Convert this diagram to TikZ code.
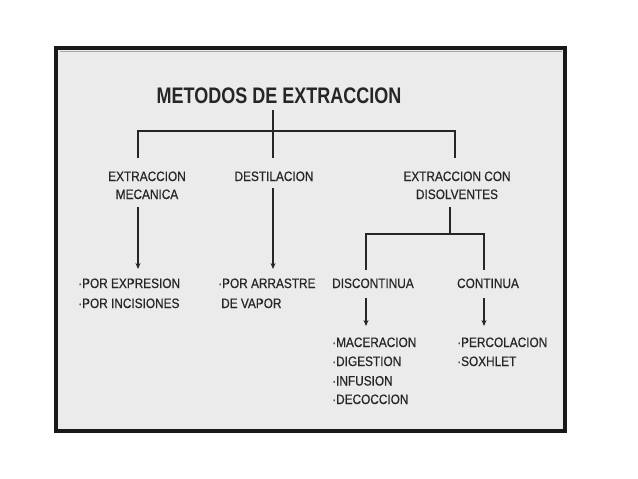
\documentclass[tikz,border=0pt]{standalone}
\usepackage{fontspec}
\setmainfont{Liberation Sans}[FakeStretch=0.87,FakeBold=0.5]
\newfontfamily\titlefont{Liberation Sans}[FakeStretch=0.8]
\usetikzlibrary{arrows.meta}
\definecolor{framebg}{HTML}{EBEBEB}
\definecolor{ink}{HTML}{262626}
\begin{document}
\begin{tikzpicture}[x=1pt,y=-1pt,
  lbl/.style={inner sep=0pt,anchor=base,text=ink,font=\fontsize{13.6}{16}\selectfont},
  lblw/.style={lbl,anchor=base west},
  ttl/.style={inner sep=0pt,anchor=base,text=ink,font=\titlefont\bfseries\fontsize{22.5}{26}\selectfont},
  tree/.style={draw=black!85,line width=1.3pt},
  arr/.style={tree,-{Stealth[length=6pt,width=5pt]}}]
\useasboundingbox (0,0) rectangle (638,479);
\fill[white] (0,0) rectangle (638,479);
\draw[line width=4pt,draw=black!90,fill=framebg] (56,48) rectangle (565,431);
\draw[line width=0.6pt,draw=black!35] (59.5,51.5) -- (561.5,51.5);
% title
\node[ttl] (title) at (279,103.5) {METODOS DE EXTRACCION};
% level 1
\node[lbl] (mec1) at (147,181) {EXTRACCION};
\node[lbl] (mec2) at (147,199) {MECANICA};
\node[lbl] (des) at (274,181) {DESTILACION};
\node[lbl] (dis1) at (457,181) {EXTRACCION CON};
\node[lbl] (dis2) at (457,199) {DISOLVENTES};
% level 2
\node[lblw] (ex1) at (78,288) {·POR EXPRESION};
\node[lblw] (ex2) at (78,308) {·POR INCISIONES};
\node[lblw] (ar1) at (218,288) {·POR ARRASTRE};
\node[lblw] (ar2) at (221,308) {DE VAPOR};
\node[lbl] (disc) at (373,288) {DISCONTINUA};
\node[lbl] (cont) at (488,288) {CONTINUA};
% level 3
\node[lblw] (m1) at (332,347) {·MACERACION};
\node[lblw] (m2) at (332,366) {·DIGESTION};
\node[lblw] (m3) at (332,385.5) {·INFUSION};
\node[lblw] (m4) at (332,404) {·DECOCCION};
\node[lblw] (p1) at (457,347) {·PERCOLACION};
\node[lblw] (p2) at (457,366) {·SOXHLET};
% junction coordinates
\coordinate (tA) at (273,110);
\coordinate (tB) at (273,158);
\coordinate (bL) at (138,158);
\coordinate (bR) at (455,158);
\coordinate (hL) at (138,131);
\coordinate (hR) at (455,131);
\coordinate (aMs) at (138,207);
\coordinate (aMe) at (138,269);
\coordinate (aDs) at (273,188);
\coordinate (aDe) at (273,269);
\coordinate (dS) at (450,207);
\coordinate (dJ) at (450,234);
\coordinate (cL) at (366,234);
\coordinate (cR) at (484,234);
\coordinate (cLe) at (366,270);
\coordinate (cRe) at (484,270);
\coordinate (aDiS) at (366,298);
\coordinate (aDiE) at (366,326);
\coordinate (aCoS) at (484,298);
\coordinate (aCoE) at (484,326);
% connectors
\draw[tree] (tA) -- (tB);
\draw[tree] (bL) -- (hL) -- (hR) -- (bR);
\draw[arr] (aMs) -- (aMe);
\draw[arr] (aDs) -- (aDe);
\draw[tree] (dS) -- (dJ);
\draw[tree] (cLe) -- (cL) -- (cR) -- (cRe);
\draw[arr] (aDiS) -- (aDiE);
\draw[arr] (aCoS) -- (aCoE);
\end{tikzpicture}
\end{document}
